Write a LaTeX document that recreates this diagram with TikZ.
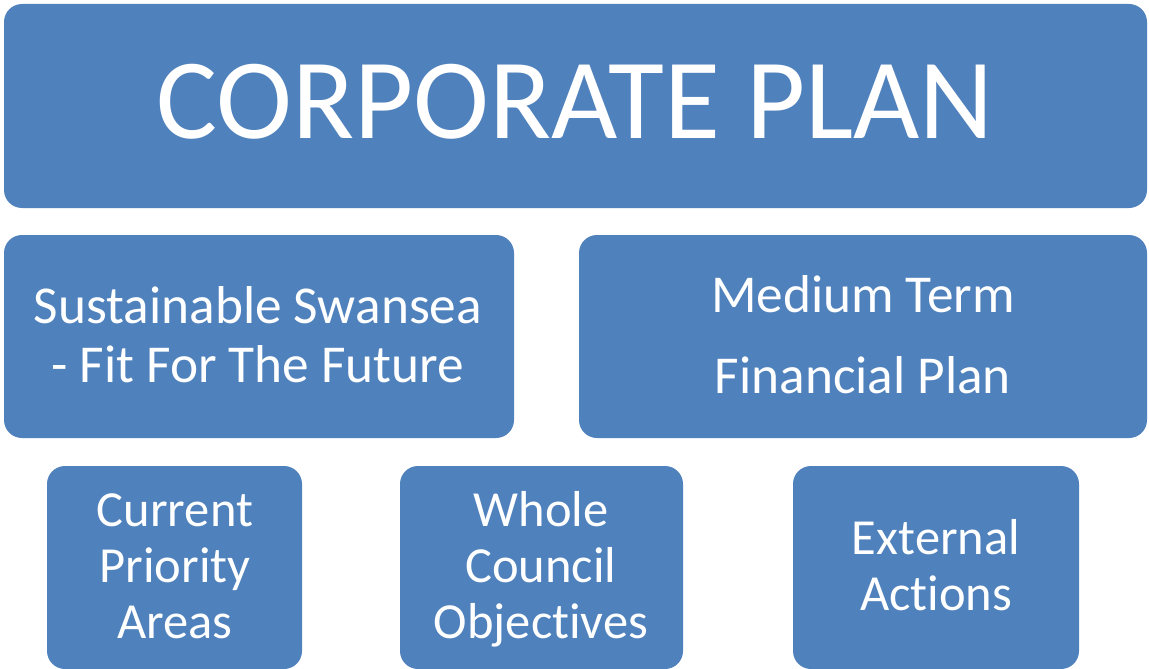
\documentclass[tikz,border=0pt]{standalone}
\usepackage{fontspec}
\setmainfont{Carlito}[Ligatures={NoCommon}]
\definecolor{boxblue}{HTML}{4F81BD}
\begin{document}
\begin{tikzpicture}[x=1pt,y=-1pt,
  box/.style={fill=boxblue, draw=none, rounded corners=18pt, inner sep=0pt},
  big/.style={text=white, anchor=base, inner sep=0pt, font=\fontsize{114.5}{120}\selectfont},
  mid/.style={text=white, anchor=base, inner sep=0pt, font=\fontsize{53.3}{58}\selectfont},
  low/.style={text=white, anchor=base, inner sep=0pt, font=\fontsize{50.5}{55}\selectfont}]
\useasboundingbox (0,0) rectangle (1149,669);
\node[box, minimum width=1143pt, minimum height=204pt] (top) at (575.5,106) {};
\node[box, minimum width=510pt, minimum height=203pt] (ml) at (259,336.5) {};
\node[box, minimum width=568pt, minimum height=203pt] (mr) at (863,336.5) {};
\node[box, minimum width=255pt, minimum height=203pt] (b1) at (174.5,567.5) {};
\node[box, minimum width=283pt, minimum height=203pt] (b2) at (541.5,567.5) {};
\node[box, minimum width=286pt, minimum height=203pt] (b3) at (936,567.5) {};
\node[big] (t1) at (575,138.5) {CORPORATE PLAN};
\node[mid] (ml1) at (258,323) {Sustainable Swansea};
\node[mid] (ml2) at (258,382) {- Fit For The Future};
\node[mid] (mr1) at (863,312) {Medium Term};
\node[mid] (mr2) at (863,393) {Financial Plan};
\node[low] (b11) at (175,526) {Current};
\node[low] (b12) at (175,582) {Priority};
\node[low] (b13) at (175,638) {Areas};
\node[low] (b21) at (541,526) {Whole};
\node[low] (b22) at (541,582) {Council};
\node[low] (b23) at (541,638) {Objectives};
\node[low] (b31) at (936,554) {External};
\node[low] (b32) at (936,610) {Actions};
\end{tikzpicture}
\end{document}
